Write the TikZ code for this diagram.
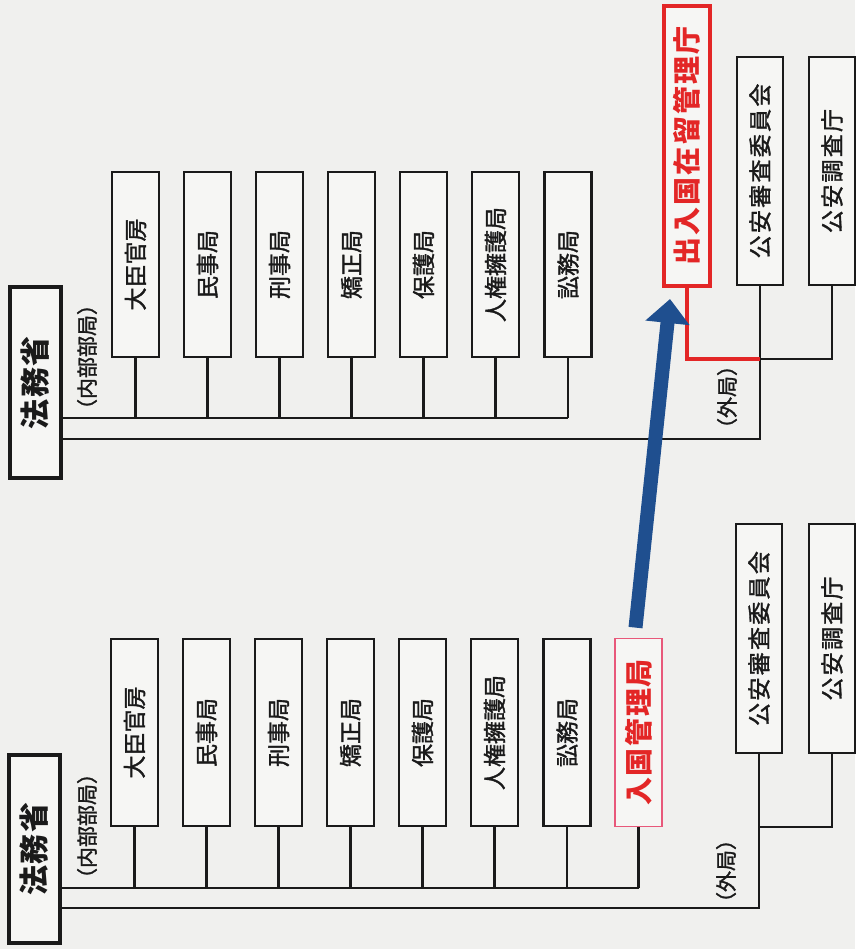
\documentclass[tikz,border=0pt]{standalone}
\usepackage{fontspec}
\usepackage{graphicx}
\setmainfont{Noto Sans CJK JP}
\newfontfamily\jpmed{Noto Sans CJK JP}[FakeBold=1.5]
\usetikzlibrary{arrows.meta,calc}
\definecolor{paper}{HTML}{F0F0EE}
\definecolor{boxfill}{HTML}{F6F6F4}
\definecolor{ink}{HTML}{1A1A1A}
\definecolor{myred}{HTML}{E32626}
\definecolor{mypink}{HTML}{E8587A}
\definecolor{myblue}{HTML}{1F4F8F}
\newcommand{\vtext}[3][0]{\rotatebox{90}{\fontsize{#2}{#2}\selectfont\addfontfeatures{LetterSpace=#1}#3}}
\newcommand{\vmed}[3][0]{\rotatebox{90}{\jpmed\fontsize{#2}{#2}\selectfont\addfontfeatures{LetterSpace=#1}#3}}
\tikzset{
  orgbox/.style={rectangle, draw=ink, line width=2.2pt, fill=boxfill, inner sep=0pt, text=ink},
  hqbox/.style={orgbox, line width=4pt},
  redbox/.style={orgbox, draw=myred, line width=4pt, text=myred},
  pinkbox/.style={orgbox, draw=mypink, line width=1.8pt, text=myred},
  conn/.style={draw=ink, line width=2.2pt},
  redconn/.style={draw=myred, line width=3.6pt},
  bluearrow/.style={draw=myblue, line width=14pt, -{Triangle[width=43pt,length=24pt]}},
  lbl/.style={inner sep=0pt, text=ink}
}
\begin{document}
\begin{tikzpicture}[x=1pt,y=-1pt]
\fill[paper] (0,0) rectangle (855,949);
\useasboundingbox (0,0) rectangle (855,949);

% ---------- top panel (after) ----------
\node[hqbox, minimum width=51pt, minimum height=191pt] (hq1) at (35.5,382.5) {\vtext[5]{30}{\bfseries 法務省}};
\node[lbl] (nai1) at (87,357) {\vmed{21}{（内部部局）}};
\foreach \i/\x/\t in {1/135.5/大臣官房,2/207.5/民事局,3/279.5/刑事局,4/351.5/矯正局,5/423.5/保護局,6/495.5/人権擁護局,7/568/訟務局}{
  \node[orgbox, minimum width=47pt, minimum height=185pt] (t\i) at (\x,264.5) {\vmed{23}{\t}};
}
\node[redbox, minimum width=46pt, minimum height=280pt] (imm1) at (687,146) {\vtext[8]{28}{\bfseries 出入国在留管理庁}};
\node[orgbox, minimum width=46pt, minimum height=228pt] (ka1) at (760,171) {\vmed[10]{23}{公安審査委員会}};
\node[orgbox, minimum width=46pt, minimum height=228pt] (kc1) at (832,171) {\vmed[10]{23}{公安調査庁}};
\node[lbl] (gai1) at (727,397) {\vmed{21}{（外局）}};

\coordinate (busA) at (0,418);
\coordinate (busB) at (0,439);
\coordinate (joinA) at (0,359);
\draw[conn] (hq1.east |- busA) -- (t7.south |- busA);
\foreach \i in {1,...,7}{ \draw[conn] (t\i.south) -- (t\i.south |- busA); }
\draw[conn] (hq1.east |- busB) -- (ka1.south |- busB) -- (ka1.south);
\draw[conn] (ka1.south |- joinA) -- (kc1.south |- joinA) -- (kc1.south);
\draw[redconn] (imm1.south) -- (imm1.south |- joinA) -- (ka1.south |- joinA);

% ---------- bottom panel (before) ----------
\node[hqbox, minimum width=51pt, minimum height=188pt] (hq2) at (34.5,849) {\vtext[5]{30}{\bfseries 法務省}};
\node[lbl] (nai2) at (87,826) {\vmed{21}{（内部部局）}};
\foreach \i/\x/\t in {1/134.5/大臣官房,2/206.5/民事局,3/278.5/刑事局,4/350.5/矯正局,5/422.5/保護局,6/494.5/人権擁護局,7/567/訟務局}{
  \node[orgbox, minimum width=47pt, minimum height=187pt] (b\i) at (\x,732.5) {\vmed{23}{\t}};
}
\node[pinkbox, minimum width=47pt, minimum height=188pt] (b8) at (638.5,732.5) {\vtext[6]{28}{\bfseries 入国管理局}};
\node[orgbox, minimum width=46pt, minimum height=229pt] (ka2) at (759,638.5) {\vmed[10]{23}{公安審査委員会}};
\node[orgbox, minimum width=46pt, minimum height=229pt] (kc2) at (832,638.5) {\vmed[10]{23}{公安調査庁}};
\node[lbl] (gai2) at (726,871) {\vmed{21}{（外局）}};

\coordinate (busC) at (0,888);
\coordinate (busD) at (0,908);
\coordinate (joinB) at (0,827);
\draw[conn] (hq2.east |- busC) -- (b8.south |- busC);
\foreach \i in {1,...,8}{ \draw[conn] (b\i.south) -- (b\i.south |- busC); }
\draw[conn] (hq2.east |- busD) -- (ka2.south |- busD) -- (ka2.south);
\draw[conn] (ka2.south |- joinB) -- (kc2.south |- joinB) -- (kc2.south);

% ---------- arrow ----------
\draw[bluearrow] ($(b8.north)+(-3,-10)$) -- ($(imm1.south)+(-17,11)$);
\end{tikzpicture}
\end{document}
